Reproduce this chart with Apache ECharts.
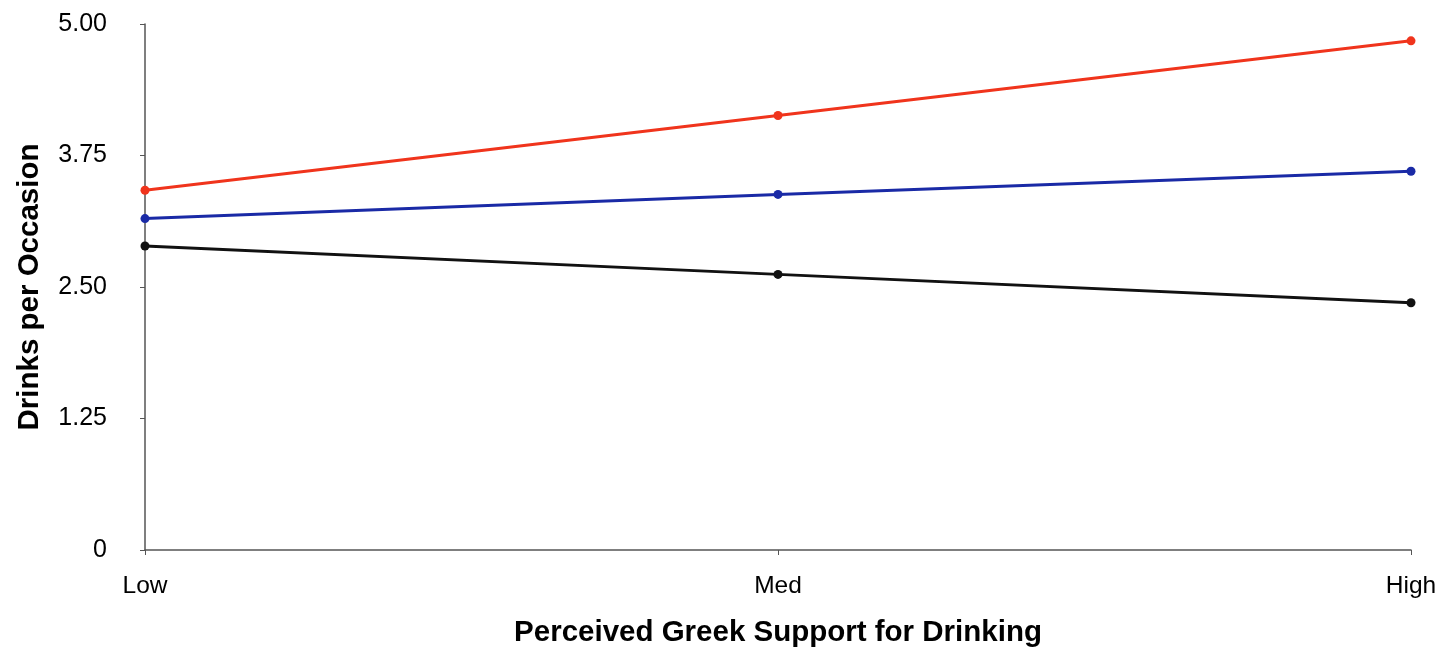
<!DOCTYPE html>
<html>
<head>
<meta charset="utf-8">
<script src="https://cdn.jsdelivr.net/npm/echarts@6/dist/echarts.min.js"></script>
<style>html,body{margin:0;padding:0;background:#fff}#c{width:1442px;height:647px}</style>
</head>
<body>
<div id="c"></div>
<script>
const categories = ['Low', 'Med', 'High'];
const redValues = [3.42, 4.13, 4.84];
const blueValues = [3.15, 3.38, 3.60];
const blackValues = [2.89, 2.62, 2.35];
const yTickLabels = {0: '0', 1.25: '1.25', 2.5: '2.50', 3.75: '3.75', 5: '5.00'};

const chart = echarts.init(document.getElementById('c'));
const font = '"Liberation Sans", Arial, sans-serif';
function line(data, color) {
  return {
    type: 'line', data: data, symbol: 'circle', symbolSize: 9,
    lineStyle: {color: color, width: 3}, itemStyle: {color: color},
    animation: false
  };
}
chart.setOption({
  animation: false,
  grid: {left: 145, right: 31, top: 24, bottom: 97, containLabel: false, outerBoundsMode: 'none'},
  xAxis: {
    type: 'category', data: categories, boundaryGap: false,
    name: 'Perceived Greek Support for Drinking', nameLocation: 'middle', nameGap: 68,
    nameTextStyle: {fontFamily: font, fontSize: 29.5, fontWeight: 'bold', color: '#000'},
    axisLine: {lineStyle: {color: '#555', width: 1.5}},
    axisTick: {show: true, length: 5, alignWithLabel: true, lineStyle: {color: '#555'}},
    axisLabel: {fontFamily: font, fontSize: 24.5, color: '#000', margin: 24},
    splitLine: {show: false}
  },
  yAxis: {
    type: 'value', min: 0, max: 5, interval: 1.25,
    name: 'Drinks per Occasion', nameLocation: 'middle', nameGap: 100, nameRotate: 90,
    nameTextStyle: {fontFamily: font, fontSize: 29.5, fontWeight: 'bold', color: '#000'},
    axisLine: {show: true, lineStyle: {color: '#555', width: 1.5}},
    axisTick: {show: true, length: 5, lineStyle: {color: '#555'}},
    axisLabel: {fontFamily: font, fontSize: 25, color: '#000', margin: 38,
      formatter: v => yTickLabels[v] !== undefined ? yTickLabels[v] : String(v)},
    splitLine: {show: false}
  },
  series: [
    line(redValues, '#f0341c'),
    line(blueValues, '#1a2aa6'),
    line(blackValues, '#111111')
  ]
});
</script>
</body>
</html>
